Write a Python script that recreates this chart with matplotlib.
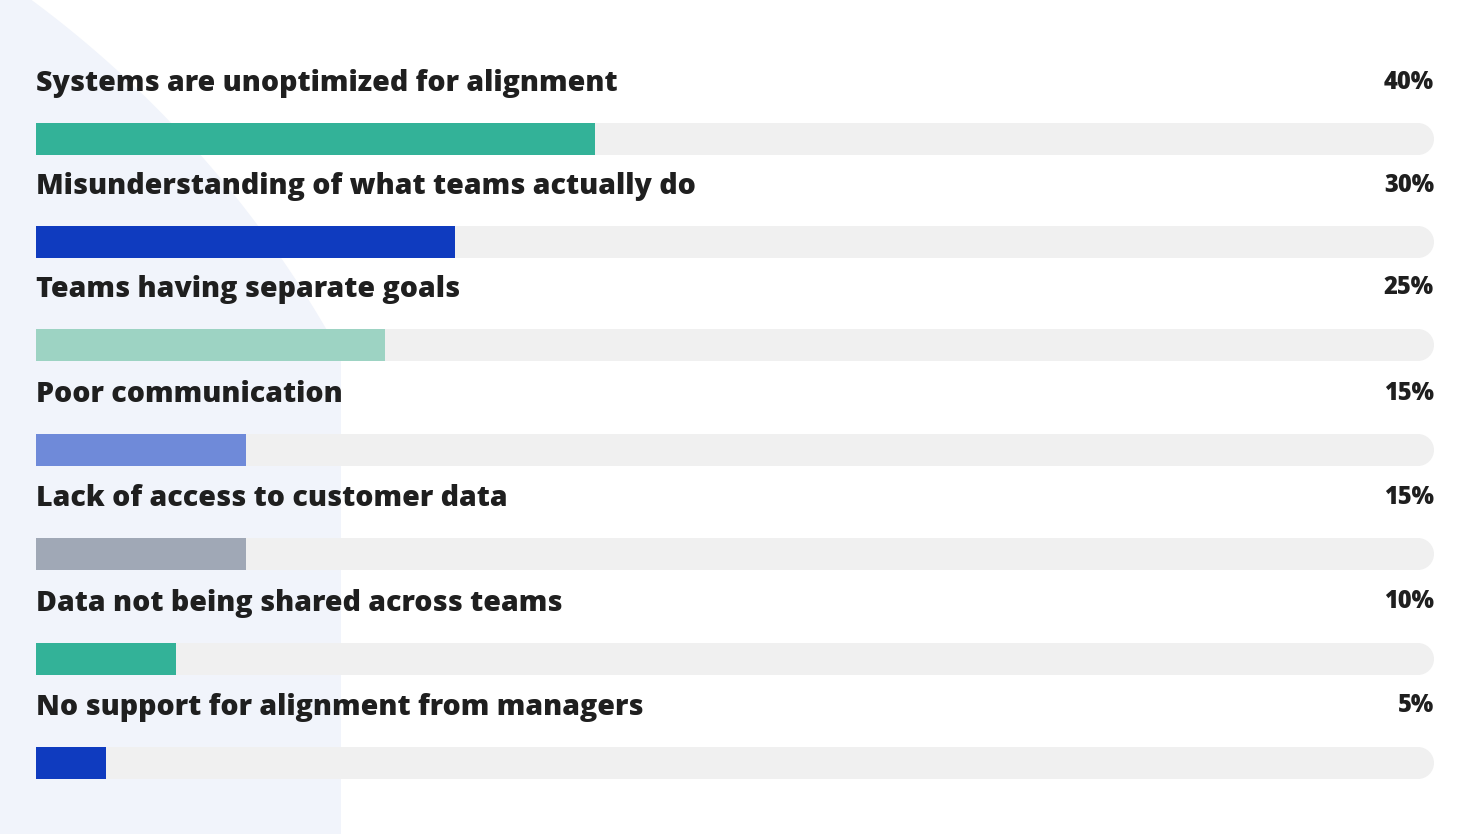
import matplotlib
matplotlib.use("Agg")
import matplotlib.pyplot as plt
import numpy as np
from matplotlib.patches import Circle, Polygon

categories = ["Systems are unoptimized for alignment",
              "Misunderstanding of what teams actually do",
              "Teams having separate goals",
              "Poor communication",
              "Lack of access to customer data",
              "Data not being shared across teams",
              "No support for alignment from managers"]
values = [40, 30, 25, 15, 15, 10, 5]
colors = ["#33b298", "#0f3bbf", "#9dd3c3", "#6f8ad9", "#a0a8b6", "#33b298", "#0f3bbf"]

W, H = 1470, 834
fig = plt.figure(figsize=(W/100, H/100), dpi=100)
ax = fig.add_axes([0, 0, 1, 1])
ax.set_xlim(0, W); ax.set_ylim(H, 0); ax.axis("off")

# background shape
cx, cy, R = -620, 880, 1095
ys = np.linspace(0, H, 200)
xs = cx + np.sqrt(np.clip(R**2 - (ys - cy)**2, 0, None))
xs = np.minimum(xs, 341)
pts = [(0, 0)] + list(zip(xs, ys)) + [(0, H)]
ax.add_patch(Polygon(pts, closed=True, color="#f1f4fb", zorder=0, lw=0))

x0, x1 = 36, 1434
scale = (x1 - x0) / 100
h = 32
bar_y = [139, 242, 345, 450, 554, 659, 763]
font = "Open Sans"
for i, (c, v, col) in enumerate(zip(categories, values, colors)):
    y = bar_y[i]
    ax.barh(y, (x1 - x0) - h/2, left=x0, height=h, color="#f0f0f0", zorder=1)
    ax.add_patch(Circle((x1 - h/2, y), h/2, color="#f0f0f0", zorder=1, lw=0))
    ax.barh(y, v * scale, left=x0, height=h, color=col, zorder=2)
    ax.text(x0, y - 56, c, fontsize=20.5, fontweight="heavy", family=font,
            color="#1f1f1f", va="center", ha="left")
    ax.text(x1, y - 57, f"{v}%", fontsize=17, fontweight="heavy", family=font,
            color="#1f1f1f", va="center", ha="right")

fig.savefig("out.png", dpi=100, facecolor="white")
